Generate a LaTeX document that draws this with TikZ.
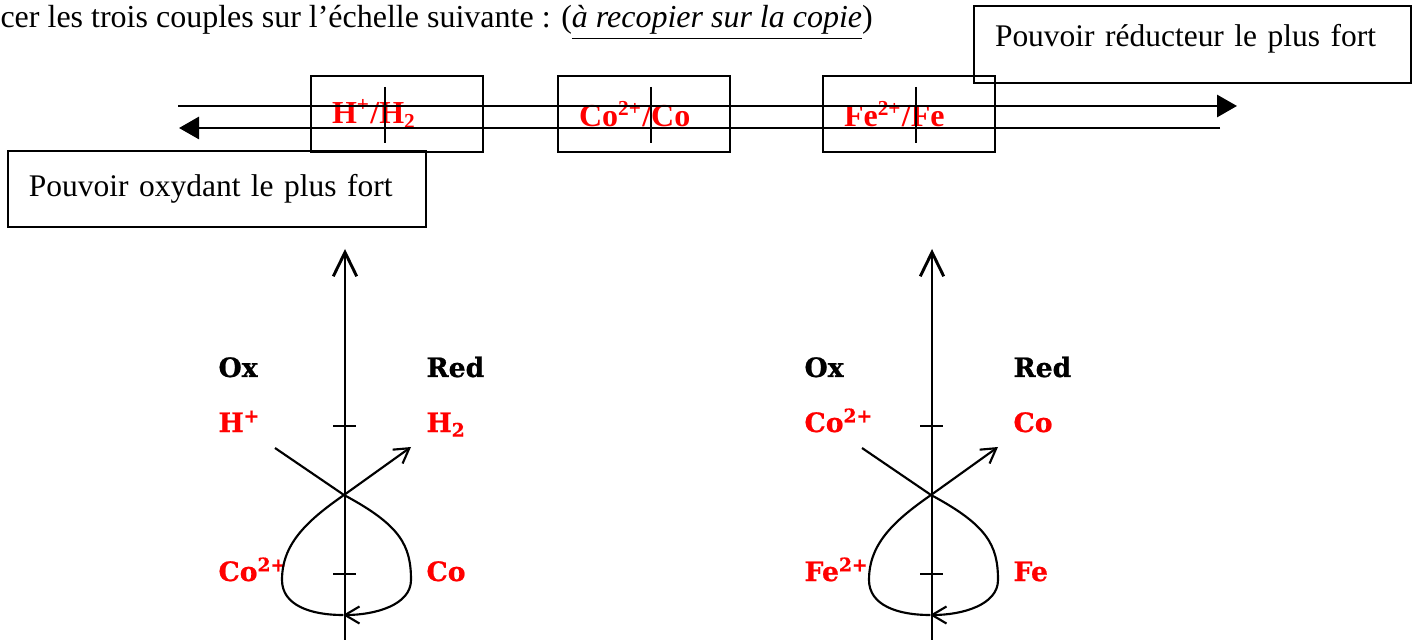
\documentclass[tikz,border=0pt]{standalone}
\usepackage{fontspec}
\setmainfont{Liberation Serif}
\newfontfamily\labelfont{DejaVu Serif}[BoldFeatures={FakeBold=0.8}]
\usetikzlibrary{arrows.meta}

\begin{document}
\begin{tikzpicture}[
    x=0.375pt, y=-0.375pt,
    font=\fontsize{12}{14}\selectfont,
    txt/.style={
        anchor=base west,
        inner sep=0pt
    },
    bigbox/.style={
        draw,
        line width=0.7pt,
        anchor=north west,
        align=left,
        inner xsep=7.9pt,
        inner ysep=0pt,
        font=\fontsize{11.8}{14}\selectfont
    },
    couple/.style={
        draw,
        line width=0.7pt,
        anchor=north west,
        align=left,
        text width=48.7pt,
        minimum height=28.5pt,
        inner xsep=7.9pt,
        inner ysep=0pt,
        text=red,
        font=\fontsize{12}{14}\selectfont\bfseries
    },
    oxred/.style={
        anchor=base west,
        inner sep=0pt,
        font=\labelfont\fontsize{10}{12}\selectfont\bfseries
    },
    species/.style={oxred, text=red},
    echelle/.style={line width=1.1pt, -{Triangle[length=7.5pt,width=8.25pt]}},
    graduation/.style={line width=0.9pt},
    axe/.style={line width=1.1pt, -{Straight Barb[length=9pt,width=8.8pt]}},
    tickmark/.style={line width=0.9pt},
    boucle/.style={line width=0.8pt, -{Straight Barb[length=5.4pt,width=6.4pt]}}
]
\useasboundingbox (0,0) rectangle (1415,640);

% consigne
\node[txt] (consigne) at (0,28)
{cer les trois couples sur l’échelle suivante : (\underline{\textit{à recopier sur la copie}})};

% echelle des couples
\node[bigbox, text width=148.1pt, minimum height=28.9pt, text depth=6.5pt] (reducteur) at (973,5)
{Pouvoir réducteur le plus fort};
\node[bigbox, text width=141pt, minimum height=28.5pt] (oxydant) at (7,150)
{Pouvoir oxydant le plus fort};

\node[couple] (hcouple) at (310,75) {H\textsuperscript{+}/H\textsubscript{2}};
\node[couple] (cocouple) at (557,75) {Co\textsuperscript{2+}/Co};
\node[couple] (fecouple) at (822,75) {Fe\textsuperscript{2+}/Fe};

\coordinate (redL) at (178,106);
\coordinate (redR) at (1237,106);
\coordinate (oxR) at (1220,128);
\coordinate (oxL) at (179,128);
\draw[echelle] (redL) -- (redR);
\draw[echelle] (oxR) -- (oxL);

\draw[graduation] (385,87) -- (385,143);
\draw[graduation] (651,87) -- (651,143);
\draw[graduation] (916,87) -- (916,143);

% reaction H+ / Co
\coordinate (hbase) at (345,640);
\coordinate (htop) at (345,249);
\draw[axe] (hbase) -- (htop);
\draw[tickmark] (333,426) -- (356,426);
\draw[tickmark] (333,574) -- (356,574);

\node[oxred] (hox) at (218,377) {Ox};
\node[oxred] (hred) at (426,377) {Red};
\node[species] (hplus) at (218,432) {H\textsuperscript{+}};
\node[species] (hdeux) at (426,432) {H\textsubscript{2}};
\node[species] (coion) at (218,581) {Co\textsuperscript{2+}};
\node[species] (cometal) at (426,581) {Co};

\coordinate (hstart) at (275,448);
\coordinate (hcross) at (344,495);
\coordinate (hbottom) at (343,615);
\coordinate (htip) at (411,447);
\draw[boucle] (hstart) -- (hcross) .. controls (400,525) and (411,545) .. (411,580)
    .. controls (411,605) and (375,615) .. (hbottom);
\draw[boucle] (hbottom) .. controls (310,615) and (282,605) .. (282,580)
    .. controls (282,545) and (305,522) .. (hcross) -- (htip);

% reaction Co2+ / Fe
\coordinate (cobase) at (932,640);
\coordinate (cotop) at (932,249);
\draw[axe] (cobase) -- (cotop);
\draw[tickmark] (920,426) -- (943,426);
\draw[tickmark] (920,574) -- (943,574);

\node[oxred] (coox) at (804,377) {Ox};
\node[oxred] (cored) at (1013,377) {Red};
\node[species] (coplus) at (804,432) {Co\textsuperscript{2+}};
\node[species] (cosolid) at (1013,432) {Co};
\node[species] (feion) at (804,581) {Fe\textsuperscript{2+}};
\node[species] (femetal) at (1013,581) {Fe};

\coordinate (costart) at (862,448);
\coordinate (cocross) at (931,495);
\coordinate (cobottom) at (930,615);
\coordinate (cotip) at (998,447);
\draw[boucle] (costart) -- (cocross) .. controls (987,525) and (998,545) .. (998,580)
    .. controls (998,605) and (962,615) .. (cobottom);
\draw[boucle] (cobottom) .. controls (897,615) and (869,605) .. (869,580)
    .. controls (869,545) and (892,522) .. (cocross) -- (cotip);

\end{tikzpicture}
\end{document}
